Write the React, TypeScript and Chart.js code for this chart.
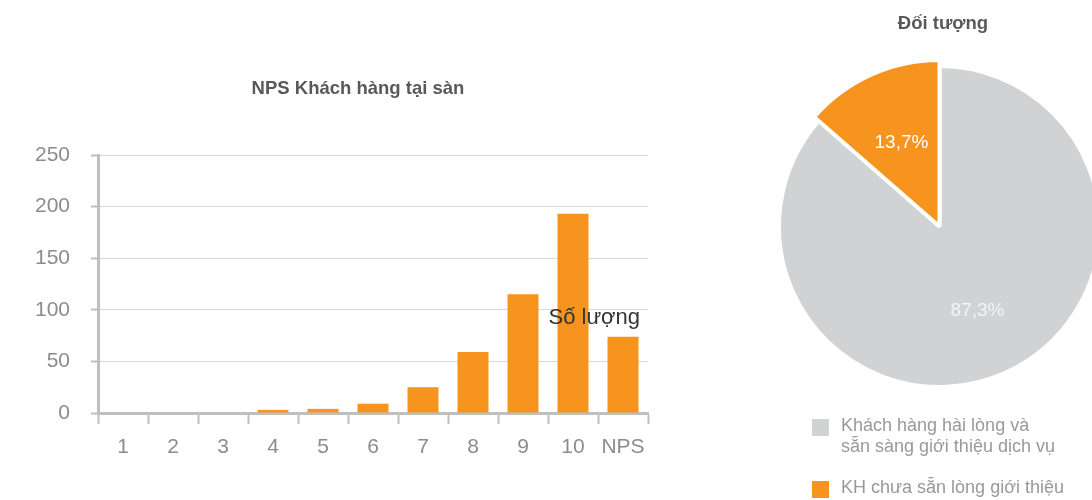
import React, { useEffect, useRef } from 'react';
import { Chart, registerables } from 'chart.js';

Chart.register(...registerables);

const FONT = '"Liberation Sans", Arial, Helvetica, sans-serif';

// ---- Bar chart data ----
const BAR_TITLE = 'NPS Khách hàng tại sàn';
const BAR_CATEGORIES = ['1', '2', '3', '4', '5', '6', '7', '8', '9', '10', 'NPS'];
const BAR_SERIES_NAME = 'Số lượng';
const BAR_VALUES = [0, 0, 0, 3, 4, 9, 25, 59, 115, 193, 74];
const Y_TICKS = [0, 50, 100, 150, 200, 250];
const BAR_COLOR = '#F7941D';

// ---- Pie chart data ----
const PIE_TITLE = 'Đối tượng';
const PIE_LABELS = [
  ['Khách hàng hài lòng và', 'sẵn sàng giới thiệu dịch vụ'],
  ['KH chưa sẵn lòng giới thiệu'],
];
const PIE_VALUES = [87.3, 13.7];
const PIE_COLORS = ['#D1D2D4', '#F7941D'];
const PIE_LABEL_COLORS = ['#F4F4F4', '#FFFFFF'];

const AXIS_COLOR = '#BFBFBF';
const GRID_COLOR = '#D9D9D9';
const TICK_TEXT = '#8C8C8C';

const barDecor = {
  id: 'barDecor',
  afterDraw(chart: any) {
    const ctx = chart.ctx;
    const ys = chart.scales.y;
    ctx.save();
    ctx.font = `bold 18.5px ${FONT}`;
    ctx.fillStyle = '#595959';
    ctx.textAlign = 'center';
    ctx.textBaseline = 'middle';
    ctx.fillText(BAR_TITLE, 358, 89);
    ctx.font = `22px ${FONT}`;
    ctx.fillStyle = '#333333';
    ctx.textAlign = 'right';
    ctx.fillText(BAR_SERIES_NAME, chart.chartArea.right - 8, ys.getPixelForValue(92));
    ctx.restore();
  },
};

const pieDecor = {
  id: 'pieDecor',
  afterDatasetsUpdate(chart: any) {
    const arcs = chart.getDatasetMeta(0).data;
    if (arcs[1]) arcs[1].outerRadius = arcs[1].outerRadius + 6;
  },
  afterDraw(chart: any) {
    const ctx = chart.ctx;
    const arcs = chart.getDatasetMeta(0).data;
    ctx.save();
    // title
    ctx.font = `bold 18.5px ${FONT}`;
    ctx.fillStyle = '#595959';
    ctx.textAlign = 'center';
    ctx.textBaseline = 'middle';
    ctx.fillText(PIE_TITLE, 203, 24);
    // data labels
    ctx.font = `19px ${FONT}`;
    arcs.forEach((arc: any, i: number) => {
      const mid = (arc.startAngle + arc.endAngle) / 2;
      const r = 92;
      const x = arc.x + Math.cos(mid) * r;
      const y = arc.y + Math.sin(mid) * r;
      ctx.fillStyle = PIE_LABEL_COLORS[i];
      ctx.fillText(String(PIE_VALUES[i]).replace('.', ',') + '%', x, y);
    });
    // legend
    ctx.textAlign = 'left';
    ctx.font = `18px ${FONT}`;
    const itemTops = [419, 481];
    PIE_LABELS.forEach((lines, i) => {
      const top = itemTops[i];
      ctx.fillStyle = PIE_COLORS[i];
      ctx.fillRect(72, top, 17, 17);
      ctx.fillStyle = '#999999';
      lines.forEach((line, j) => {
        ctx.fillText(line, 101, top + 7 + j * 21);
      });
    });
    ctx.restore();
  },
};

export default function App() {
  const barRef = useRef<HTMLCanvasElement>(null);
  const pieRef = useRef<HTMLCanvasElement>(null);

  useEffect(() => {
    const tickFont = { family: FONT, size: 21 };
    const bar = new Chart(barRef.current as HTMLCanvasElement, {
      type: 'bar',
      data: {
        labels: BAR_CATEGORIES,
        datasets: [
          {
            label: BAR_SERIES_NAME,
            data: BAR_VALUES,
            backgroundColor: BAR_COLOR,
            barPercentage: 0.62,
            categoryPercentage: 1,
          },
        ],
      },
      options: {
        animation: false,
        responsive: false,
        layout: { padding: { top: 155, right: 68, left: 0, bottom: 0 } },
        plugins: {
          legend: { display: false },
          title: { display: false },
          tooltip: { enabled: false },
        },
        scales: {
          x: {
            grid: {
              display: true,
              drawOnChartArea: false,
              drawTicks: true,
              tickLength: 11,
              tickWidth: 2,
              tickColor: AXIS_COLOR,
              offset: true,
            },
            border: { display: true, width: 3, color: AXIS_COLOR },
            ticks: { font: tickFont, color: TICK_TEXT, padding: 11 },
            afterFit: (s: any) => {
              s.height = 87;
            },
          },
          y: {
            min: 0,
            max: 250,
            afterBuildTicks: (s: any) => {
              s.ticks = Y_TICKS.map((v) => ({ value: v }));
            },
            ticks: { font: tickFont, color: TICK_TEXT, padding: 21 },
            grid: {
              color: GRID_COLOR,
              lineWidth: 1,
              tickColor: AXIS_COLOR,
              tickWidth: 2,
              tickLength: 7,
            },
            border: { display: true, width: 3, color: AXIS_COLOR },
            afterFit: (s: any) => {
              s.width = 98;
            },
          },
        },
      } as any,
      plugins: [barDecor],
    });

    const pie = new Chart(pieRef.current as HTMLCanvasElement, {
      type: 'pie',
      data: {
        labels: PIE_LABELS as any,
        datasets: [
          {
            data: PIE_VALUES,
            backgroundColor: PIE_COLORS,
            borderColor: '#FFFFFF',
            borderWidth: 4,
            clip: false,
          } as any,
        ],
      },
      options: {
        animation: false,
        responsive: false,
        radius: 160.5,
        layout: { padding: { left: 0, right: 1, top: 0, bottom: 47 } },
        plugins: {
          legend: { display: false },
          title: { display: false },
          tooltip: { enabled: false },
        },
      } as any,
      plugins: [pieDecor],
    });

    return () => {
      bar.destroy();
      pie.destroy();
    };
  }, []);

  return (
    <div
      style={{
        position: 'absolute',
        left: 0,
        top: 0,
        width: 1092,
        height: 500,
        overflow: 'hidden',
        background: '#FFFFFF',
      }}
    >
      <canvas
        ref={barRef}
        width={716}
        height={500}
        style={{ position: 'absolute', left: 0, top: 0 }}
      />
      <canvas
        ref={pieRef}
        width={400}
        height={500}
        style={{ position: 'absolute', left: 740, top: 0 }}
      />
    </div>
  );
}
